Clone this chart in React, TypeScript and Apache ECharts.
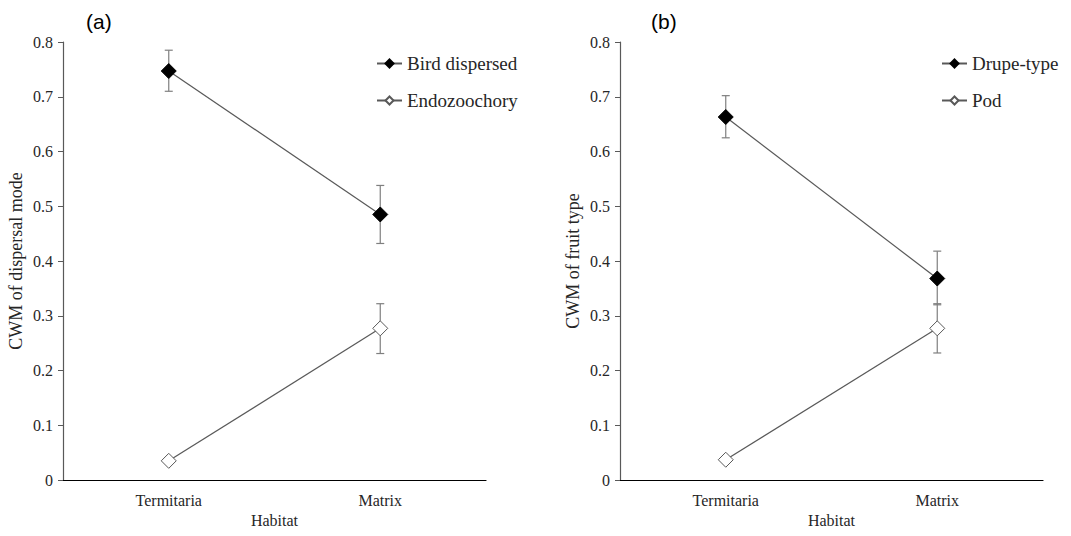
import React, { useEffect, useRef } from "react";
import * as echarts from "echarts";

const categories = ["Termitaria", "Matrix"];
const yTicks = [0, 0.1, 0.2, 0.3, 0.4, 0.5, 0.6, 0.7, 0.8];

// Panel (a)
const birdDispersed = [0.747, 0.485];
const birdErrLow = [0.71, 0.432];
const birdErrHigh = [0.785, 0.538];
const endozoochory = [0.035, 0.277];
const endoErrLow = [0.033, 0.231];
const endoErrHigh = [0.037, 0.322];

// Panel (b)
const drupeType = [0.663, 0.368];
const drupeErrLow = [0.625, 0.32];
const drupeErrHigh = [0.702, 0.418];
const pod = [0.037, 0.277];
const podErrLow = [0.035, 0.232];
const podErrHigh = [0.039, 0.322];

const serif = "'Liberation Serif', 'Times New Roman', serif";
const textColor = "#262626";
const lineColor = "#595959";

function errorSeries(name: string, idx: number, low: number[], high: number[]) {
  return {
    name,
    type: "custom",
    xAxisIndex: idx,
    yAxisIndex: idx,
    z: 1,
    silent: true,
    data: categories.map((c, i) => [i, low[i], high[i]]),
    renderItem: (params: any, api: any) => {
      const x = api.value(0);
      const lo = api.coord([x, api.value(1)]);
      const hi = api.coord([x, api.value(2)]);
      const w = 4;
      const style = { stroke: "#7f7f7f", lineWidth: 1.2 };
      return {
        type: "group",
        children: [
          { type: "line", shape: { x1: lo[0], y1: lo[1], x2: hi[0], y2: hi[1] }, style },
          { type: "line", shape: { x1: lo[0] - w, y1: lo[1], x2: lo[0] + w, y2: lo[1] }, style },
          { type: "line", shape: { x1: hi[0] - w, y1: hi[1], x2: hi[0] + w, y2: hi[1] }, style },
        ],
      };
    },
  };
}

function lineSeries(name: string, idx: number, data: number[], filled: boolean) {
  return {
    name,
    type: "line",
    xAxisIndex: idx,
    yAxisIndex: idx,
    z: 3,
    data,
    symbol: "diamond",
    symbolSize: 15,
    lineStyle: { color: lineColor, width: 1.2 },
    itemStyle: filled
      ? { color: "#000000", borderColor: "#000000", borderWidth: 1 }
      : { color: "#ffffff", borderColor: "#595959", borderWidth: 1 },
  };
}

function xAxis(idx: number) {
  return {
    type: "category",
    gridIndex: idx,
    data: categories,
    boundaryGap: true,
    name: "Habitat",
    nameLocation: "middle",
    nameGap: 32,
    nameTextStyle: { fontFamily: serif, fontSize: 16, color: textColor },
    axisLine: { lineStyle: { color: "#000000", width: 1.2 } },
    axisTick: { alignWithLabel: true, length: 5, lineStyle: { color: "#000000" } },
    axisLabel: { fontFamily: serif, fontSize: 16, color: textColor, margin: 12 },
    splitLine: { show: false },
  };
}

function yAxis(idx: number, name: string) {
  return {
    type: "value",
    gridIndex: idx,
    min: 0,
    max: yTicks[yTicks.length - 1],
    interval: 0.1,
    name,
    nameLocation: "middle",
    nameGap: 38,
    nameTextStyle: { fontFamily: serif, fontSize: 18, color: textColor },
    axisLine: { show: true, lineStyle: { color: lineColor, width: 1.2 } },
    axisTick: { show: true, length: 5, lineStyle: { color: lineColor } },
    axisLabel: {
      fontFamily: serif,
      fontSize: 16,
      color: textColor,
      margin: 10,
      formatter: (v: number) => (v === 0 ? "0" : String(Math.round(v * 10) / 10)),
    },
    splitLine: { show: false },
  };
}

function legend(left: number, names: string[]) {
  return {
    left,
    top: 49,
    orient: "vertical",
    itemGap: 18,
    itemWidth: 25,
    itemHeight: 10,
    data: names,
    textStyle: { fontFamily: serif, fontSize: 19, color: textColor },
  };
}

export default function App() {
  const ref = useRef<HTMLDivElement>(null);
  useEffect(() => {
    if (!ref.current) return;
    const chart = echarts.init(ref.current, undefined, { renderer: "svg" });
    chart.setOption({
      animation: false,
      backgroundColor: "#ffffff",
      textStyle: { fontFamily: serif },
      title: [
        { text: "(a)", left: 81, top: 6, textStyle: { fontFamily: "Liberation Sans", fontSize: 21, fontWeight: "normal", color: "#000" } },
        { text: "(b)", left: 646, top: 6, textStyle: { fontFamily: "Liberation Sans", fontSize: 21, fontWeight: "normal", color: "#000" } },
      ],
      legend: [legend(371, ["Bird dispersed", "Endozoochory"]), legend(936, ["Drupe-type", "Pod"])],
      grid: [
        { left: 63, right: 585, top: 42, bottom: 56 },
        { left: 620, right: 28, top: 42, bottom: 56 },
      ],
      xAxis: [xAxis(0), xAxis(1)],
      yAxis: [yAxis(0, "CWM of dispersal mode"), yAxis(1, "CWM of fruit type")],
      series: [
        errorSeries("errBird", 0, birdErrLow, birdErrHigh),
        errorSeries("errEndo", 0, endoErrLow, endoErrHigh),
        errorSeries("errDrupe", 1, drupeErrLow, drupeErrHigh),
        errorSeries("errPod", 1, podErrLow, podErrHigh),
        lineSeries("Bird dispersed", 0, birdDispersed, true),
        lineSeries("Endozoochory", 0, endozoochory, false),
        lineSeries("Drupe-type", 1, drupeType, true),
        lineSeries("Pod", 1, pod, false),
      ],
    });
    return () => chart.dispose();
  }, []);
  return (
    <div
      ref={ref}
      style={{ position: "fixed", left: 0, top: 0, width: 1071, height: 536, background: "#fff" }}
    />
  );
}
